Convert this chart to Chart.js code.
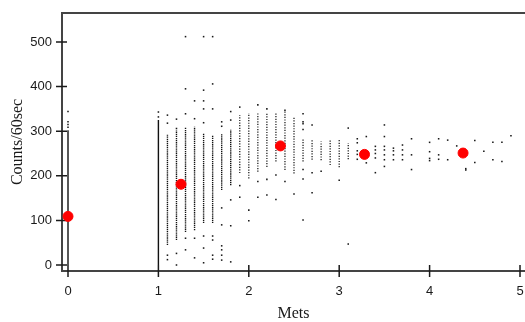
<!DOCTYPE html>
<html><head><meta charset="utf-8">
<script src="https://cdn.jsdelivr.net/npm/chart.js@4/dist/chart.umd.min.js"></script>
<style>html,body{margin:0;padding:0;background:#fff;overflow:hidden}</style>
</head><body>
<div style="width:525px;height:322px"><canvas id="c" width="525" height="322"></canvas></div>
<script>
const xTicks = [0, 1, 2, 3, 4, 5];
const yTicks = [0, 100, 200, 300, 400, 500];

// red mean markers
const meanMets   = [0, 1.25, 2.35, 3.28, 4.37];
const meanCounts = [109, 181, 267, 248, 251];

// densely sampled columns (Mets value, lowest and highest count of the dense run)
const denseMets = [0, 1.0, 1.1, 1.2, 1.3, 1.4, 1.5, 1.6, 1.7, 1.8, 1.9, 2.0, 2.1, 2.2, 2.3, 2.4, 2.5, 2.6, 2.7, 2.8, 2.9, 3.0, 3.1];
const denseLow  = [0,   0,  45,  56,  74,  78,  94,  94, 168, 179, 206, 194, 209, 220, 232, 213, 205, 232, 236, 235, 224, 219, 237];
const denseHigh = [302, 325, 292, 302, 309, 310, 294, 291, 295, 303, 336, 340, 341, 341, 341, 344, 331, 282, 280, 277, 280, 283, 273];

// isolated observations per column
const looseMets = [0, 1.0, 1.1, 1.2, 1.3, 1.4, 1.5, 1.6, 1.7, 1.8, 1.9, 2.0, 2.1, 2.2, 2.3, 2.4, 2.5, 2.6, 2.7, 2.8, 3.0, 3.1,
                   3.2, 3.3, 3.4, 3.5, 3.6, 3.7, 3.8, 4.0, 4.1, 4.2, 4.3, 4.4, 4.5, 4.6, 4.7, 4.8, 4.9];
const looseCounts = [
  [344, 321, 315, 309],
  [343, 332],
  [336, 318, 22, 12],
  [327, 306, 26, 0],
  [512, 395, 339, 60, 34],
  [368, 328, 60, 16],
  [512, 392, 368, 350, 319, 65, 38, 5],
  [512, 406, 350, 65, 56, 22, 13],
  [321, 311, 128, 90, 43, 34, 22, 11],
  [344, 325, 146, 88, 7],
  [354, 178, 152],
  [123, 99],
  [359, 187, 152],
  [350, 192, 157],
  [202, 147],
  [347, 187],
  [159],
  [339, 321, 317, 304, 214, 193, 101],
  [314, 207, 162],
  [210],
  [190],
  [307, 47],
  [283, 274, 256, 248, 237],
  [288, 229],
  [266, 258, 250, 240, 207],
  [314, 288, 266, 258, 247, 236, 221],
  [262, 256, 247, 236],
  [269, 258, 247, 236],
  [283, 247, 214],
  [275, 254, 239, 234],
  [283, 247, 237],
  [280, 236],
  [267],
  [216, 213],
  [279, 230],
  [255],
  [275, 236],
  [275, 232],
  [290]
];

const solidData = [], tightData = [], looseDashData = [];
denseMets.forEach((m, i) => {
  const t = (m === 0 || m === 1) ? solidData : (m < 1.85 ? tightData : looseDashData);
  t.push({x: m, y: denseLow[i]}, {x: m, y: denseHigh[i]}, {x: m, y: null});
});
const looseData = [];
looseMets.forEach((m, i) => looseCounts[i].forEach(v => looseData.push({x: m, y: v})));
const meanData = meanMets.map((m, i) => ({x: m, y: meanCounts[i]}));

const framePlugin = {
  id: 'frame',
  beforeDatasetsDraw(chart) {
    const {ctx, chartArea: a, scales: {x, y}} = chart;
    ctx.save();
    ctx.strokeStyle = '#444';
    ctx.lineWidth = 2;
    ctx.beginPath();
    ctx.moveTo(chart.width, a.top);
    ctx.lineTo(a.left, a.top);
    ctx.lineTo(a.left, a.bottom);
    ctx.lineTo(chart.width, a.bottom);
    ctx.stroke();
    ctx.strokeStyle = '#1a1a1a';
    ctx.lineWidth = 1.5;
    ctx.beginPath();
    xTicks.forEach(v => { const p = x.getPixelForValue(v); ctx.moveTo(p, a.bottom - 6); ctx.lineTo(p, a.bottom + 6); });
    yTicks.forEach(v => { const p = y.getPixelForValue(v); ctx.moveTo(a.left - 6, p); ctx.lineTo(a.left + 5, p); });
    ctx.stroke();
    ctx.restore();
  }
};

const noPad = s => { s.paddingLeft = 0; s.paddingRight = 0; s.paddingTop = 0; s.paddingBottom = 0; };

new Chart(document.getElementById('c'), {
  type: 'scatter',
  data: {
    datasets: [
      {data: meanData, backgroundColor: '#ff0000', borderColor: '#ff0000', pointRadius: 5, pointHoverRadius: 5, order: 0},
      {data: looseData, backgroundColor: '#1a1a1a', borderWidth: 0, pointStyle: 'rect', pointRadius: 1.1, order: 1},
      {data: solidData, showLine: true, spanGaps: false, borderColor: '#111', borderWidth: 1.4, pointRadius: 0, order: 2},
      {data: tightData, showLine: true, spanGaps: false, borderColor: '#111', borderWidth: 1.4, borderDash: [1.3, 0.8], pointRadius: 0, order: 2},
      {data: looseDashData, showLine: true, spanGaps: false, borderColor: '#222', borderWidth: 1.3, borderDash: [1.2, 1.4], pointRadius: 0, order: 2}
    ]
  },
  options: {
    responsive: false,
    animation: false,
    events: [],
    layout: {autoPadding: false, padding: {top: 13, right: 0, bottom: 0, left: 0}},
    plugins: {legend: {display: false}, tooltip: {enabled: false}},
    scales: {
      x: {
        type: 'linear', min: -0.0664, max: 5.0553,
        afterBuildTicks: s => { s.ticks = xTicks.map(v => ({value: v})); },
        afterFit: s => { s.height = 51; noPad(s); },
        grid: {display: true, drawOnChartArea: false, drawTicks: false},
        border: {display: false},
        ticks: {padding: 13, color: '#1a1a1a', font: {family: 'Liberation Sans', size: 13}, maxRotation: 0},
        title: {display: true, text: 'Mets', color: '#1a1a1a', font: {family: 'Liberation Serif', size: 16, lineHeight: 1}, padding: {top: 0, bottom: 0}}
      },
      y: {
        type: 'linear', min: -13.45, max: 565,
        afterBuildTicks: s => { s.ticks = yTicks.map(v => ({value: v})); },
        afterFit: s => { s.width = 62; noPad(s); },
        grid: {display: true, drawOnChartArea: false, drawTicks: false},
        border: {display: false},
        ticks: {padding: 10, color: '#1a1a1a', font: {family: 'Liberation Sans', size: 13}},
        title: {display: true, text: 'Counts/60sec', color: '#1a1a1a', font: {family: 'Liberation Serif', size: 16, lineHeight: 1}, padding: {top: 10, bottom: 0}}
      }
    }
  },
  plugins: [framePlugin]
});
</script>
</body></html>
